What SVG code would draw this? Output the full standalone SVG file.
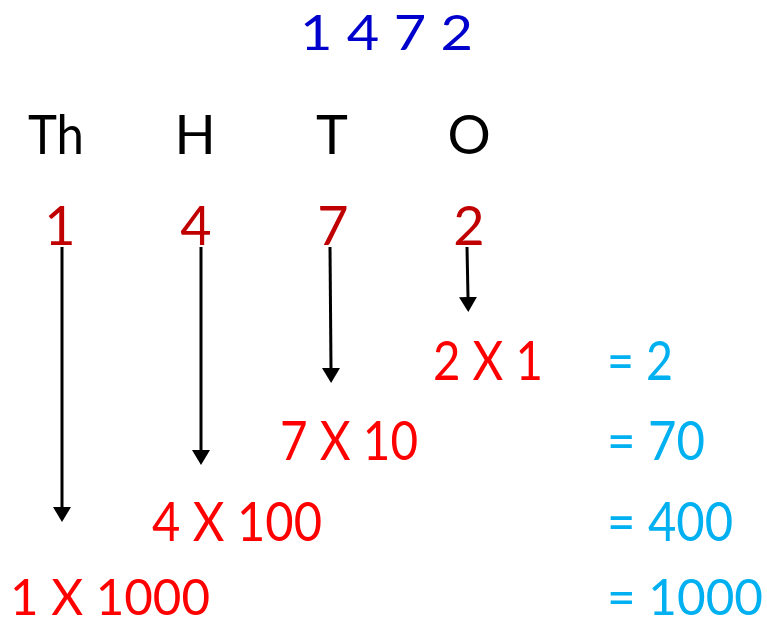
<svg xmlns="http://www.w3.org/2000/svg" width="767" height="627" viewBox="0 0 767 627">
<style>
text{font-family:Lato,"Open Sans","Liberation Sans",sans-serif;font-size:54px}
.title{fill:#0000CC;font-size:49px}
.head{fill:#000}
.dig{fill:#C00000;text-anchor:middle}
.mul{fill:#FF0000}
.res{fill:#00B0F0}
.low{font-size:50px}
.arr{stroke:#000;stroke-width:3;fill:none;marker-end:url(#ah)}
</style>
<defs>
<marker id="ah" markerWidth="5" markerHeight="6" refX="0" refY="3" orient="auto" markerUnits="strokeWidth">
<path d="M0,0 L5,3 L0,6 Z" fill="#000"/>
</marker>
</defs>
<rect width="767" height="627" fill="#fff"/>
<g id="title"><text class="title" x="300" y="50" textLength="173" lengthAdjust="spacingAndGlyphs">1 4 7 2</text></g>
<g id="headers">
<text class="head" x="28" y="154" textLength="56" lengthAdjust="spacingAndGlyphs">Th</text>
<text class="head" x="195" y="154" text-anchor="middle">H</text>
<text class="head" x="332" y="154" text-anchor="middle">T</text>
<text class="head" x="469" y="154" text-anchor="middle">O</text>
</g>
<g id="digits">
<text class="dig" x="60" y="245">1</text>
<text class="dig" x="196" y="245">4</text>
<text class="dig" x="333" y="245">7</text>
<text class="dig" x="469" y="245">2</text>
</g>
<g id="connectors">
<line class="arr" x1="62" y1="247" x2="62" y2="507"/>
<line class="arr" x1="201" y1="247" x2="201" y2="450"/>
<line class="arr" x1="330" y1="247" x2="331" y2="368"/>
<line class="arr" x1="467" y1="247" x2="468" y2="297"/>
</g>
<g id="products">
<text class="mul" x="433" y="380" textLength="110" lengthAdjust="spacingAndGlyphs">2 X 1</text>
<text class="mul" x="280" y="460" textLength="138" lengthAdjust="spacingAndGlyphs">7 X 10</text>
<text class="mul" x="152" y="541" textLength="170" lengthAdjust="spacingAndGlyphs">4 X 100</text>
<text class="mul low" x="10" y="615" textLength="200" lengthAdjust="spacingAndGlyphs">1 X 1000</text>
</g>
<g id="results">
<text class="res" x="607" y="380" textLength="66" lengthAdjust="spacingAndGlyphs">= 2</text>
<text class="res" x="607" y="460" textLength="98" lengthAdjust="spacingAndGlyphs">= 70</text>
<text class="res" x="607" y="541" textLength="126" lengthAdjust="spacingAndGlyphs">= 400</text>
<text class="res low" x="607" y="615" textLength="156" lengthAdjust="spacingAndGlyphs">= 1000</text>
</g>
</svg>
